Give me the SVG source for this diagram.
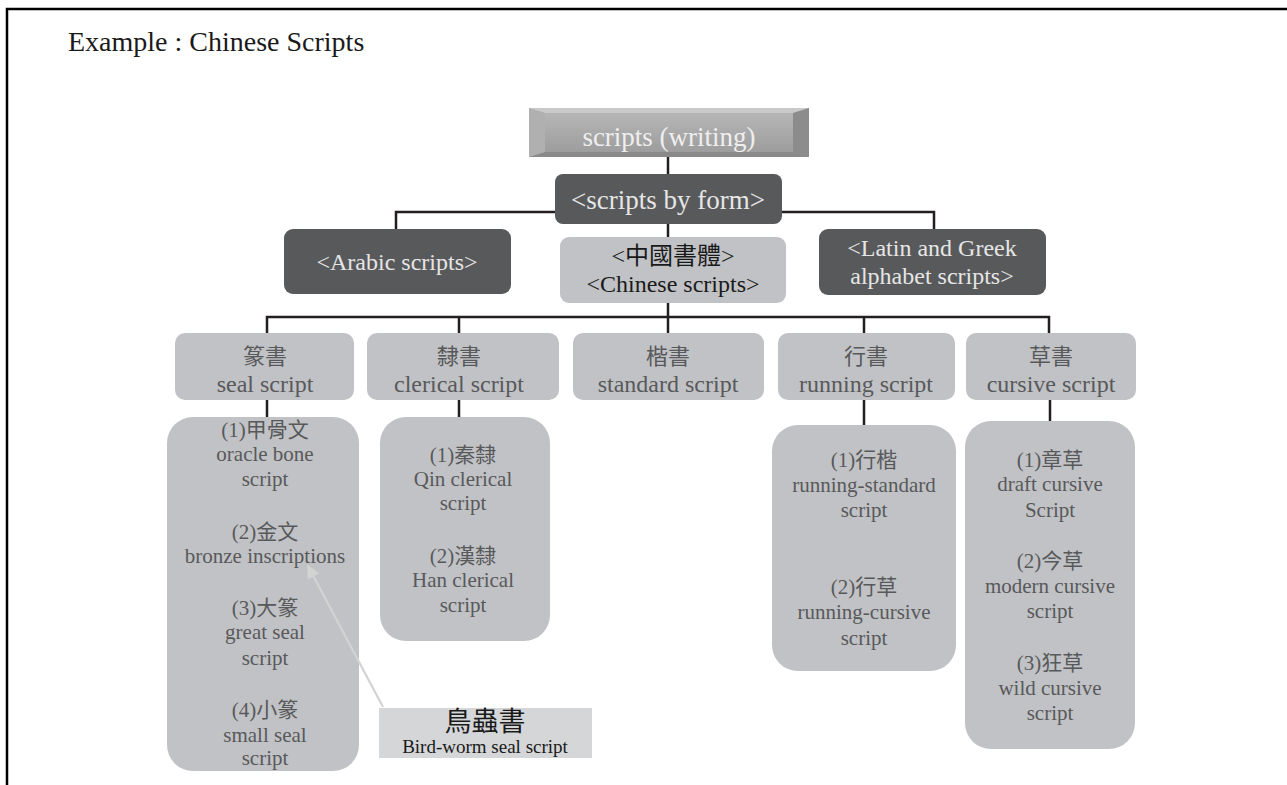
<svg xmlns="http://www.w3.org/2000/svg" width="1287" height="785" viewBox="0 0 1287 785">
<style>
.t{font-family:"Liberation Serif","Noto Sans CJK TC",serif;text-anchor:middle}
.dark{fill:#58595b}
.light{fill:#c1c2c5}
.lt{fill:#e6e6e6}
.gt{fill:#58595b}
.k{fill:#1a1a1a}
.s24{font-size:24px}
.c23{font-size:22px}
.s21{font-size:21px}
.conn{stroke:#231f20;stroke-width:2.5;fill:none}
</style>
<defs>
<linearGradient id="g1" x1="0" y1="0" x2="0" y2="1">
<stop offset="0" stop-color="#b9b9b9"/>
<stop offset="1" stop-color="#9a9a9a"/>
</linearGradient>
<marker id="ah" viewBox="0 0 10 10" refX="9" refY="5" markerWidth="6" markerHeight="6" orient="auto" markerUnits="strokeWidth">
<path d="M0,0 L10,5 L0,10 z" fill="#d3d3d3"/>
</marker>
</defs>
<rect width="1287" height="785" fill="#fff"/>
<path d="M7,785 V9 H1287" stroke="#000" stroke-width="2.5" fill="none"/>
<text x="68" y="51" font-family="Liberation Serif, serif" font-size="28" fill="#1a1a1a">Example : Chinese Scripts</text>

<g id="n-root">
<rect x="529" y="108" width="280" height="49" fill="url(#g1)"/>
<polygon points="529,108 809,108 793,113 545,113" fill="#c9c9c9"/>
<polygon points="529,157 809,157 793,152 545,152" fill="#8a8a8a"/>
<polygon points="529,108 545,113 545,152 529,157" fill="#b0b0b0"/>
<polygon points="809,108 793,113 793,152 809,157" fill="#8c8c8c"/>
<text class="t" x="669" y="146" font-size="27" fill="#efefef">scripts (writing)</text>
</g>

<g id="n-form">
<rect class="dark" x="555" y="174" width="227" height="50" rx="8"/>
<text class="t lt" x="668" y="209" font-size="27">&lt;scripts by form&gt;</text>
</g>

<g id="n-arabic">
<rect class="dark" x="284" y="229" width="227" height="65" rx="9"/>
<text class="t lt s24" x="397" y="270">&lt;Arabic scripts&gt;</text>
</g>

<g id="n-chinese">
<rect class="light" x="560" y="237" width="226" height="66" rx="9"/>
<text class="t k s24" x="673" y="264">&lt;中國書體&gt;</text>
<text class="t k s24" x="673" y="292">&lt;Chinese scripts&gt;</text>
</g>

<g id="n-latin">
<rect class="dark" x="819" y="229" width="227" height="66" rx="9"/>
<text class="t lt s24" x="932" y="256">&lt;Latin and Greek</text>
<text class="t lt s24" x="932" y="284">alphabet scripts&gt;</text>
</g>

<g id="n-seal">
<rect class="light" x="175" y="333" width="179" height="67" rx="10"/>
<text class="t gt c23" x="265" y="364">篆書</text>
<text class="t gt s24" x="265" y="392">seal script</text>
</g>
<g id="n-clerical">
<rect class="light" x="367" y="333" width="192" height="67" rx="10"/>
<text class="t gt c23" x="459" y="364">隸書</text>
<text class="t gt s24" x="459" y="392">clerical script</text>
</g>
<g id="n-standard">
<rect class="light" x="573" y="333" width="191" height="67" rx="10"/>
<text class="t gt c23" x="668" y="364">楷書</text>
<text class="t gt s24" x="668" y="392">standard script</text>
</g>
<g id="n-running">
<rect class="light" x="778" y="333" width="177" height="67" rx="10"/>
<text class="t gt c23" x="866" y="364">行書</text>
<text class="t gt s24" x="866" y="392">running script</text>
</g>
<g id="n-cursive">
<rect class="light" x="966" y="333" width="170" height="67" rx="10"/>
<text class="t gt c23" x="1051" y="364">草書</text>
<text class="t gt s24" x="1051" y="392">cursive script</text>
</g>

<g id="n-seal-sub">
<rect class="light" x="167" y="417" width="192" height="354" rx="26"/>
<g class="t gt s21">
<text x="265" y="437">(1)甲骨文</text>
<text x="265" y="461">oracle bone</text>
<text x="265" y="486">script</text>
<text x="265" y="539">(2)金文</text>
<text x="265" y="563">bronze inscriptions</text>
<text x="265" y="615">(3)大篆</text>
<text x="265" y="639">great seal</text>
<text x="265" y="665">script</text>
<text x="265" y="717">(4)小篆</text>
<text x="265" y="742">small seal</text>
<text x="265" y="765">script</text>
</g>
</g>

<g id="n-clerical-sub">
<rect class="light" x="380" y="417" width="170" height="224" rx="26"/>
<g class="t gt s21">
<text x="463" y="462">(1)秦隸</text>
<text x="463" y="486">Qin clerical</text>
<text x="463" y="510">script</text>
<text x="463" y="563">(2)漢隸</text>
<text x="463" y="587">Han clerical</text>
<text x="463" y="612">script</text>
</g>
</g>

<g id="n-running-sub">
<rect class="light" x="772" y="425" width="184" height="246" rx="26"/>
<g class="t gt s21">
<text x="864" y="467">(1)行楷</text>
<text x="864" y="492">running-standard</text>
<text x="864" y="517">script</text>
<text x="864" y="594">(2)行草</text>
<text x="864" y="619">running-cursive</text>
<text x="864" y="645">script</text>
</g>
</g>

<g id="n-cursive-sub">
<rect class="light" x="965" y="421" width="170" height="328" rx="26"/>
<g class="t gt s21">
<text x="1050" y="467">(1)章草</text>
<text x="1050" y="491">draft cursive</text>
<text x="1050" y="517">Script</text>
<text x="1050" y="568">(2)今草</text>
<text x="1050" y="593">modern cursive</text>
<text x="1050" y="618">script</text>
<text x="1050" y="670">(3)狂草</text>
<text x="1050" y="695">wild cursive</text>
<text x="1050" y="720">script</text>
</g>
</g>

<g id="n-birdworm">
<rect x="379" y="708" width="213" height="50" fill="#d5d6d8"/>
<text class="t k" x="485" y="731" font-size="27">鳥蟲書</text>
<text class="t k" x="485" y="753" font-size="19">Bird-worm seal script</text>
</g>

<g id="connectors">
<path class="conn" d="M668,157 V174"/>
<path class="conn" d="M396,229 V212 H555 M782,212 H934 V229"/>
<path class="conn" d="M668,224 V237"/>
<path class="conn" d="M668,303 V333 M267,333 V317 H1049 V333 M459,317 V333 M864,317 V333"/>
<path class="conn" d="M267,400 V417 M459,400 V417 M864,400 V425 M1050,400 V421"/>
<line x1="383" y1="707" x2="308" y2="566" stroke="#d3d3d3" stroke-width="2.2" marker-end="url(#ah)"/>
</g>
</svg>
